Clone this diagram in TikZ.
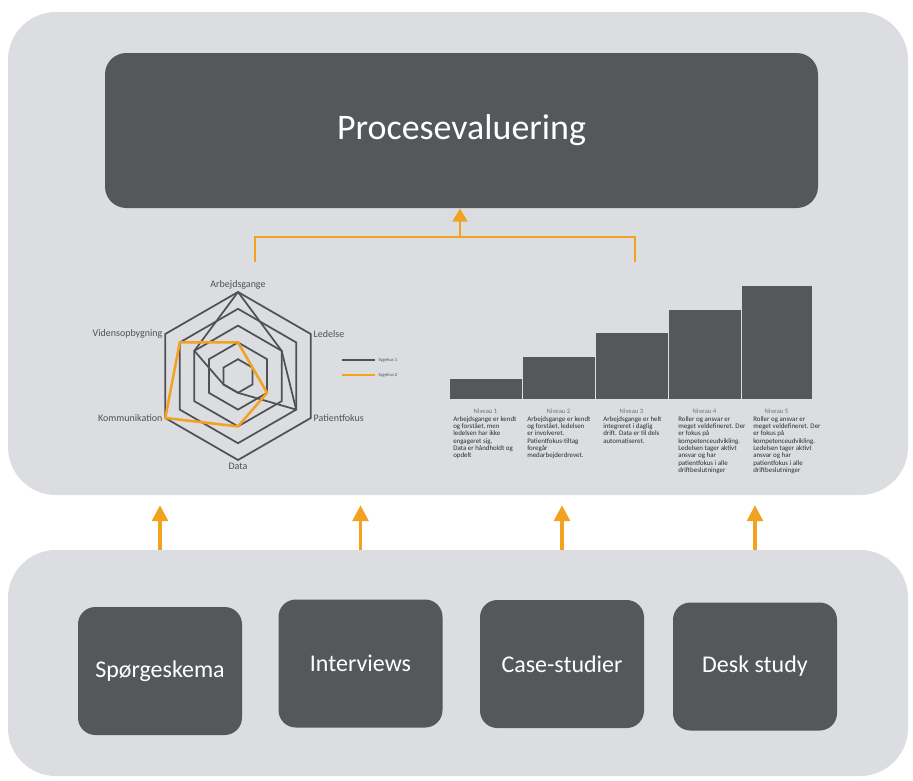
\documentclass[tikz,border=0pt]{standalone}
\usepackage{fontspec}
\setmainfont{Carlito}
\usetikzlibrary{positioning,arrows.meta,fit}
\definecolor{PanelGray}{RGB}{219,221,224}
\definecolor{BoxGray}{RGB}{85,88,91}
\definecolor{WebGray}{RGB}{78,81,86}
\definecolor{AccentOrange}{RGB}{242,162,32}
\definecolor{CaptionInk}{RGB}{45,45,45}
\def\px{0.0264cm}
\def\rstep{16.8}
\tikzset{
  panel/.style={fill=PanelGray,rounded corners=36pt,inner sep=0pt},
  topbox/.style={fill=BoxGray,rounded corners=16pt,inner sep=0pt,
    text=white,font=\fontsize{27}{32}\selectfont},
  srcbox/.style={fill=BoxGray,rounded corners=13pt,inner sep=0pt,
    minimum width=164*\px,minimum height=128*\px,
    text=white,font=\fontsize{18}{22}\selectfont},
  flow/.style={-{Triangle[length=12pt,width=12pt]},line width=2.4pt,draw=AccentOrange},
  bracket/.style={line width=2.2pt,draw=AccentOrange},
  web/.style={line width=1.3pt,draw=WebGray},
  hospone/.style={line width=1.3pt,draw=WebGray,line join=round},
  hosptwo/.style={line width=1.9pt,draw=AccentOrange,line join=round},
  axislabel/.style={font=\fontsize{7.5}{9}\selectfont,text=WebGray,inner sep=2pt},
  bar/.style={fill=BoxGray,draw=PanelGray,line width=0.6pt,inner sep=0pt},
  levelname/.style={font=\fontsize{5}{6}\selectfont,text=WebGray!80,inner sep=0pt},
  leveltext/.style={font=\fontsize{5.2}{5.5}\selectfont,text=CaptionInk,
    align=left,inner sep=0pt,anchor=north west},
  legendtext/.style={font=\fontsize{3.5}{4}\selectfont,text=WebGray,anchor=west,inner sep=1pt}
}

\begin{document}
\begin{tikzpicture}[x=0.0264cm,y=-0.0264cm]
  \useasboundingbox (0,0) rectangle (913,780);
  % panels
  \node[panel,fit={(8,12) (908,495)}] (toppanel) {};
  \node[panel,fit={(8,550) (908,776)}] (bottompanel) {};
  \node[topbox,minimum width=713*\px,minimum height=155*\px] (proc) at (461.5,130.5) {Procesevaluering};

  % data sources
  \node[srcbox] (spg) at (160,671) {Spørgeskema};
  \node[srcbox] (intv) at (360.5,663.5) {Interviews};
  \node[srcbox] (cases) at (562,664) {Case-studier};
  \node[srcbox] (desk) at (755,666.5) {Desk study};
  \foreach \src in {spg,intv,cases,desk}
    \draw[flow,shorten >=7.5pt] (bottompanel.north -| \src.center) -- (toppanel.south -| \src.center);

  % bracket into Procesevaluering
  \coordinate (brL) at (255,262);
  \coordinate (brR) at (635,262);
  \coordinate (brTop) at (460,237);
  \draw[bracket] (brL) -- (brL |- brTop) -- (brR |- brTop) -- (brR);
  \draw[flow,line width=2.2pt,-{Triangle[length=10pt,width=11pt]}] (brTop) -- (proc.south -| brTop);

  % radar chart
  \begin{scope}[shift={(238,376)},y=0.0264cm]
    \foreach \lvl in {1,...,5}
      \draw[web] (90:\lvl*\rstep) \foreach \ang in {30,-30,-90,-150,-210} {-- (\ang:\lvl*\rstep)} -- cycle;
    \draw[hospone] (90:5*\rstep) -- (30:3*\rstep) -- (-30:4*\rstep) -- (-90:1*\rstep)
      -- (-150:1*\rstep) -- (150:3*\rstep) -- cycle;
    \draw[hosptwo] (90:2*\rstep) -- (30:1*\rstep) -- (-30:2*\rstep) -- (-90:3*\rstep)
      -- (-150:5*\rstep) -- (150:4*\rstep) -- cycle;
    \node[axislabel,anchor=south] (arb) at (90:5*\rstep) {Arbejdsgange};
    \node[axislabel,anchor=west] (led) at (30:5*\rstep) {Ledelse};
    \node[axislabel,anchor=west] (pat) at (-30:5*\rstep) {Patientfokus};
    \node[axislabel,anchor=north] (dat) at (-90:5*\rstep) {Data};
    \node[axislabel,anchor=east] (kom) at (-150:5*\rstep) {Kommunikation};
    \node[axislabel,anchor=east] (vid) at (150:5*\rstep) {Vidensopbygning};
  \end{scope}
  % legend
  \draw[hospone] (342,360) -- (375,360);
  \draw[hosptwo] (342,375) -- (375,375);
  \node[legendtext] (leg1) at (377,360) {Sygehus 1};
  \node[legendtext] (leg2) at (377,375) {Sygehus 2};

  % maturity levels
  \node[bar,fit={(449,378) (522,399)}] (b1) {};
  \node[bar,fit={(522,356) (595,399)}] (b2) {};
  \node[bar,fit={(595,332) (668,399)}] (b3) {};
  \node[bar,fit={(668,309) (741,399)}] (b4) {};
  \node[bar,fit={(741,285) (812,399)}] (b5) {};
  \foreach \b/\n in {b1/1,b2/2,b3/3,b4/4,b5/5}
    \node[levelname,below=7pt of \b] (n\n) {Niveau \n};
  \node[leveltext] (t1) at (453,416) {Arbejdsgange er kendt\\og forstået, men\\ledelsen har ikke\\engageret sig.\\Data er håndholdt og\\opdelt};
  \node[leveltext] (t2) at (527,416) {Arbejdsgange er kendt\\og forstået, ledelsen\\er involveret.\\Patientfokus-tiltag\\foregår\\medarbejderdrevet.};
  \node[leveltext] (t3) at (603,416) {Arbejdsgange er helt\\integreret i daglig\\drift. Data er til dels\\automatiseret.};
  \node[leveltext] (t4) at (678,416) {Roller og ansvar er\\meget veldefineret. Der\\er fokus på\\kompetenceudvikling.\\Ledelsen tager aktivt\\ansvar og har\\patientfokus i alle\\driftbeslutninger};
  \node[leveltext] (t5) at (753,416) {Roller og ansvar er\\meget veldefineret. Der\\er fokus på\\kompetenceudvikling.\\Ledelsen tager aktivt\\ansvar og har\\patientfokus i alle\\driftbeslutninger};
\end{tikzpicture}
\end{document}
